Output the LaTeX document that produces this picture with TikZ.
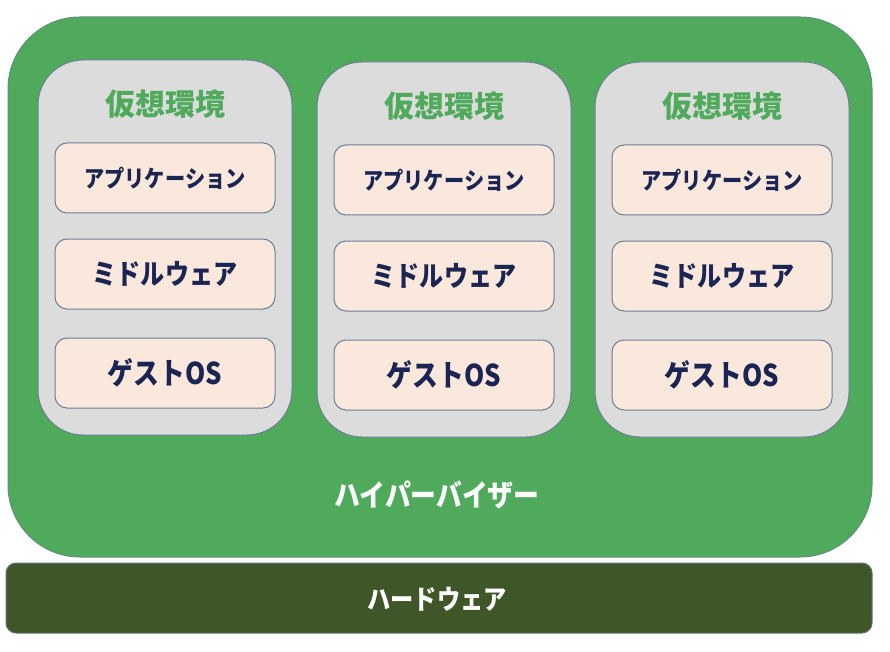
\documentclass[tikz,border=0pt]{standalone}
\usepackage{fontspec}
\newfontfamily\jp[FakeStretch=0.86]{Noto Sans CJK JP}
\newfontfamily\jptitle{Noto Sans CJK JP}
\usepackage{tikz}
\definecolor{hvgreen}{HTML}{4FAA5B}
\definecolor{hwgreen}{HTML}{3F5629}
\definecolor{vmgray}{HTML}{DCDCDC}
\definecolor{layerfill}{HTML}{FBE8DC}
\definecolor{edgeblue}{HTML}{6B7E96}
\definecolor{navytext}{HTML}{1B2553}

\begin{document}
\begin{tikzpicture}[x=1pt,y=-1pt,
  hvbox/.style={draw=edgeblue!60!hvgreen,fill=hvgreen,line width=1pt,rounded corners=72pt,minimum width=864pt,minimum height=540pt,inner sep=0pt},
  hwbox/.style={draw=edgeblue!70!hwgreen,fill=hwgreen,line width=1pt,rounded corners=10pt,minimum width=866pt,minimum height=70pt,inner sep=0pt},
  vmbox/.style={draw=edgeblue,fill=vmgray,line width=1pt,rounded corners=45pt,minimum width=254pt,minimum height=375pt,inner sep=0pt},
  layer/.style={draw=edgeblue,fill=layerfill,line width=1pt,rounded corners=12pt,minimum width=220pt,minimum height=70pt,inner sep=0pt,text=navytext}]
\useasboundingbox (0,0) rectangle (890,652);
\node[hvbox] (hyper) at (440,287) {};
\node[hwbox] (hw) at (439,598) {};
\node[text=white] (hyperlbl) at (437,495) {\jp\bfseries\fontsize{30}{32}\selectfont ハイパーバイザー};
\node[text=white] (hwlbl) at (437,599) {\jp\bfseries\fontsize{27}{30}\selectfont ハードウェア};
% three guests
\foreach \i/\cx/\dy in {1/165/0,2/444/2,3/722/2}{
  \node[vmbox] (vm\i) at (\cx,247.5+\dy) {};
  \node[text=hvgreen] (title\i) at (\cx,104+\dy) {\jptitle\bfseries\fontsize{30}{32}\selectfont 仮想環境};
  \node[layer] (app\i) at (\cx,178+\dy) {\jp\bfseries\fontsize{23.5}{26}\selectfont アプリケーション};
  \node[layer] (mw\i) at (\cx,274+\dy) {\jp\bfseries\fontsize{28}{30}\selectfont ミドルウェア};
  \node[layer] (os\i) at (\cx,373+\dy) {\jp\bfseries\fontsize{30}{32}\selectfont ゲストOS};
}
\end{tikzpicture}
\end{document}
